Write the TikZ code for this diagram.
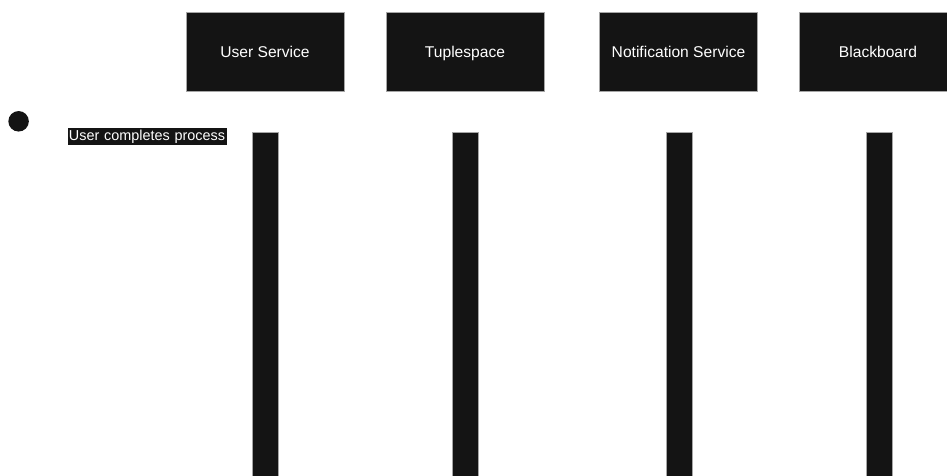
\documentclass[tikz,border=0pt]{standalone}
\usepackage{fontspec}
\setmainfont{Liberation Sans}
\begin{document}
\begin{tikzpicture}[x=1pt,y=-1pt,
  actorbox/.style={rectangle, fill=boxblack, draw=gray!70, line width=0.6pt,
    minimum width=158pt, minimum height=79pt, inner sep=0pt, text=white,
    text height=12.5pt, text depth=0.9pt,
    font=\fontsize{15.6}{18}\selectfont},
  actbar/.style={rectangle, fill=boxblack, draw=gray!70, line width=0.5pt,
    minimum width=26pt, minimum height=344pt, inner sep=0pt, anchor=north},
  startdot/.style={circle, fill=boxblack, minimum size=20.5pt, inner sep=0pt},
  msglabel/.style={rectangle, fill=boxblack, text=white, inner sep=0pt,
    minimum height=17.6pt, text width=159pt, align=center,
    font=\fontsize{14.4}{16}\selectfont}]
\definecolor{boxblack}{HTML}{141414}
\useasboundingbox (0,0) rectangle (947,476);
\clip (0,0) rectangle (947,476);
\node[actorbox] (us) at (265,51.5) {User Service};
\node[actorbox] (ts) at (465,51.5) {Tuplespace};
\node[actorbox] (ns) at (678.5,51.5) {Notification Service};
\node[actorbox] (bb) at (878,51.5) {Blackboard};
\node[actbar] (usbar) at (265.3,132.3) {};
\node[actbar] (tsbar) at (465.7,132.3) {};
\node[actbar] (nsbar) at (678.8,132.3) {};
\node[actbar] (bbbar) at (878.8,132.3) {};
\node[startdot] (start) at (18.6,121.3) {};
\node[msglabel] (lbl) at (147,136.5) {User completes process};
\end{tikzpicture}
\end{document}
